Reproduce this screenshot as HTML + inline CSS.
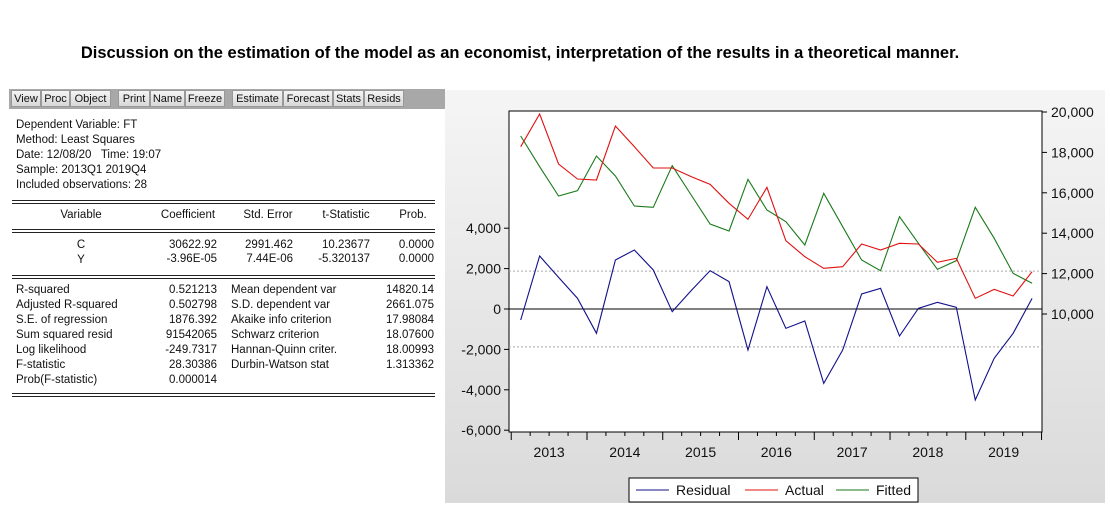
<!DOCTYPE html>
<html><head><meta charset="utf-8"><style>
body{margin:0;width:1110px;height:512px;background:#fff;position:relative;overflow:hidden;font-family:"Liberation Sans",Arial,sans-serif;}
.t{position:absolute;font-size:11.5px;color:#111;white-space:nowrap;line-height:14px}
.r{text-align:right}
.c{text-align:center}
.dl{position:absolute;left:12px;width:423px;height:2px;border-top:1px solid #222;border-bottom:1px solid #222}
.btn{position:absolute;top:90px;height:17px;font-size:11px;line-height:17px;text-align:center;background:linear-gradient(#f4f4f4,#d8d8d8);border:1px solid #999;box-sizing:border-box;color:#111}
</style></head><body>
<div style="position:absolute;left:0;width:1040px;top:44px;text-align:center;font-weight:bold;font-size:16.5px;color:#000">Discussion on the estimation of the model as an economist, interpretation of the results in a theoretical manner.</div>

<div style="position:absolute;left:9px;top:89px;width:436px;height:20px;background:#a8a8a8"></div>
<div class="btn" style="left:11px;width:30px">View</div>
<div class="btn" style="left:41px;width:29px">Proc</div>
<div class="btn" style="left:70px;width:41px">Object</div>
<div class="btn" style="left:118px;width:32px">Print</div>
<div class="btn" style="left:150px;width:35px">Name</div>
<div class="btn" style="left:185px;width:40px">Freeze</div>
<div class="btn" style="left:232px;width:51px">Estimate</div>
<div class="btn" style="left:283px;width:50px">Forecast</div>
<div class="btn" style="left:333px;width:31px">Stats</div>
<div class="btn" style="left:364px;width:40px">Resids</div>

<div>
<div class="t" style="left:16px;top:118px">Dependent Variable: FT</div>
<div class="t" style="left:16px;top:133px">Method: Least Squares</div>
<div class="t" style="left:16px;top:148px">Date: 12/08/20&nbsp;&nbsp; Time: 19:07</div>
<div class="t" style="left:16px;top:163px">Sample: 2013Q1 2019Q4</div>
<div class="t" style="left:16px;top:178px">Included observations: 28</div>
<div class="dl" style="top:200px"></div>
<div class="t c" style="left:41px;width:80px;top:208px">Variable</div>
<div class="t c" style="left:148px;width:80px;top:208px">Coefficient</div>
<div class="t c" style="left:228px;width:80px;top:208px">Std. Error</div>
<div class="t c" style="left:306px;width:80px;top:208px">t-Statistic</div>
<div class="t c" style="left:383px;width:60px;top:208px">Prob.</div>
<div class="dl" style="top:229px"></div>
<div class="t c" style="left:61px;width:40px;top:238px">C</div>
<div class="t c" style="left:61px;width:40px;top:253px">Y</div>
<div class="t r" style="left:137px;width:80px;top:238px">30622.92<br>-3.96E-05</div>
<div class="t r" style="left:213px;width:80px;top:238px">2991.462<br>7.44E-06</div>
<div class="t r" style="left:290px;width:80px;top:238px">10.23677<br>-5.320137</div>
<div class="t r" style="left:374px;width:60px;top:238px">0.0000<br>0.0000</div>
<div class="dl" style="top:275px"></div>
<div class="t" style="left:16px;top:283px;line-height:15px">R-squared<br>Adjusted R-squared<br>S.E. of regression<br>Sum squared resid<br>Log likelihood<br>F-statistic<br>Prob(F-statistic)</div>
<div class="t r" style="left:137px;width:80px;top:283px;line-height:15px">0.521213<br>0.502798<br>1876.392<br>91542065<br>-249.7317<br>28.30386<br>0.000014</div>
<div class="t" style="left:231px;top:283px;line-height:15px">Mean dependent var<br>S.D. dependent var<br>Akaike info criterion<br>Schwarz criterion<br>Hannan-Quinn criter.<br>Durbin-Watson stat</div>
<div class="t r" style="left:354px;width:80px;top:283px;line-height:15px">14820.14<br>2661.075<br>17.98084<br>18.07600<br>18.00993<br>1.313362</div>
<div class="dl" style="top:393px"></div>
</div>

<svg style="position:absolute;left:0;top:0" width="1110" height="512">
<defs><linearGradient id="bg" x1="0" y1="0" x2="0" y2="1"><stop offset="0" stop-color="#f5f5f5"/><stop offset="1" stop-color="#dadada"/></linearGradient></defs>
<rect x="445" y="90" width="660" height="413" fill="url(#bg)"/>
<rect x="509" y="111" width="533" height="321" fill="#fff" stroke="#000" stroke-width="1"/>
<g id="g"></g>
</svg>
<script>
var years=["2013","2014","2015","2016","2017","2018","2019"];
var leftTicks=[4000,2000,0,-2000,-4000,-6000];
var rightTicks=[10000,12000,14000,16000,18000,20000];
var residual=[-545,2624,1568,528,-1204,2426,2921,1931,-132,908,1898,1353,-2030,1106,-957,-594,-3680,-2030,743,1023,-1337,33,330,83,-4505,-2442,-1204,528];
var actual=[18284,19901,17426,16683,16634,19307,18284,17228,17228,16799,16419,15479,14686,16271,13630,12838,12261,12343,13465,13168,13498,13465,12558,12756,10776,11221,10891,12096];
var fitted=[18812,17292,15842,16106,17822,16832,15347,15281,17342,15891,14455,14109,16667,15149,14571,13416,15974,14323,12673,12145,14818,13498,12211,12640,15281,13746,12013,11520];
var sd=1876.392;
var NS="http://www.w3.org/2000/svg",g=document.getElementById('g');
var PL=509,PR=1042,PT=111,PB=432,K=0.0202;
function xq(i){return 520.7+18.94*i;}
function yL(v){return 309-v*K;}
function yR(v){return 314-(v-10000)*K;}
function mk(t,a){var e=document.createElementNS(NS,t);for(var k in a)e.setAttribute(k,a[k]);g.appendChild(e);return e;}
function fmt(v){return v.toLocaleString('en-US');}
leftTicks.forEach(function(v){var y=yL(v);
 var l=mk('line',{x1:PL-5,x2:PL,y1:y,y2:y,stroke:'#000'});
 
 
 var t=mk('text',{x:PL-8,y:y+5,'text-anchor':'end','font-size':'14','font-family':'Liberation Sans, Arial, sans-serif',fill:'#111'});t.textContent=fmt(v);
 
 });
rightTicks.forEach(function(v){var y=yR(v);
 var l=mk('line',{x1:PR,x2:PR+5,y1:y,y2:y,stroke:'#000'});
 
 
 var t=mk('text',{x:PR+9,y:y+5,'font-size':'14','font-family':'Liberation Sans, Arial, sans-serif',fill:'#111'});t.textContent=fmt(v);
 
 });
for(var q=0;q<=28;q++){var x=xq(q-0.5);var big=q%4==0;
 var l=mk('line',{x1:x,x2:x,y1:PB,y2:PB+(big?8:4),stroke:'#000'});
 
 }
years.forEach(function(yr,i){var t=mk('text',{x:xq(i*4+1.5),y:PB+25,'text-anchor':'middle','font-size':'14','font-family':'Liberation Sans, Arial, sans-serif',fill:'#111'});t.textContent=yr;
 
 });
[sd,-sd].forEach(function(v){var l=mk('line',{x1:PL,x2:PR,y1:yL(v),y2:yL(v),stroke:'#aaa','stroke-dasharray':'2,2'});
 
 });
var z=mk('line',{x1:PL,x2:PR,y1:yL(0),y2:yL(0),stroke:'#000'});


function series(arr,f,col,name){var p=mk('polyline',{points:arr.map(function(v,i){return xq(i)+','+f(v);}).join(' '),fill:'none',stroke:col,'stroke-width':'1.1'});
 
 }
series(fitted,yR,'#1a7a1a','fitted-line');
series(actual,yR,'#e01010','actual-line');
series(residual,yL,'#10108a','residual-line');
var lb=mk('rect',{x:629,y:478,width:289,height:24,fill:'#fff',stroke:'#000'});


[['Residual','#10108a',636],['Actual','#e01010',745],['Fitted','#1a7a1a',836]].forEach(function(d){
 var l=mk('line',{x1:d[2],x2:d[2]+33,y1:490,y2:490,stroke:d[1]});
 
 
 var t=mk('text',{x:d[2]+40,y:495,'font-size':'14','font-family':'Liberation Sans, Arial, sans-serif',fill:'#111'});t.textContent=d[0];
 
 });
</script>
</body></html>
